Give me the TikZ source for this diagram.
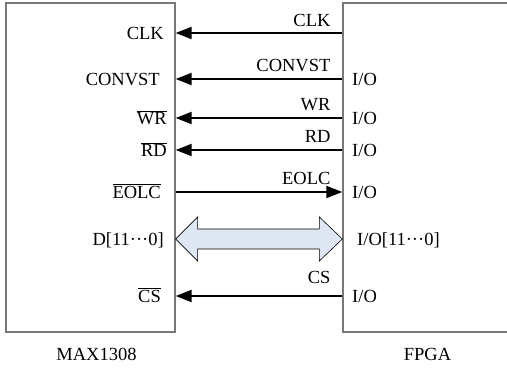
\documentclass[tikz,border=0pt]{standalone}
\usepackage{fontspec}
\setmainfont{Liberation Serif}
\usetikzlibrary{arrows.meta}
\usetikzlibrary{calc,positioning}

\definecolor{boxgray}{RGB}{120,120,120}
\definecolor{busblue}{RGB}{222,231,243}

\newcommand{\lowact}[1]{$\overline{\mbox{#1}}$}
\newcommand{\midots}{\textperiodcentered\textperiodcentered\textperiodcentered}

\begin{document}
\begin{tikzpicture}[x=1pt,y=-1pt,>={Triangle[length=16pt,width=12pt]},
  every node/.style={font=\fontsize{18.5}{21}\selectfont,inner sep=0pt,text height=12.5pt,text depth=0pt},
  chip/.style={draw=boxgray,line width=1.3pt,minimum width=169pt,minimum height=329pt},
  sig/.style={line width=1.8pt},
  bus/.style={draw=black,fill=busblue,line width=0.6pt},
  tag/.style={anchor=south east,xshift=-11pt,yshift=7pt}]
\clip (0,0) rectangle (507,371);

\node[chip] (max) at (90.5,167.5) {};
\node[chip] (fpga) at (427.5,167.5) {};
\node (maxname) [below=15pt of max,xshift=6pt] {MAX1308};
\node (fpganame) [below=15pt of fpga] {FPGA};

% pins of the converter
\node[anchor=east] (clk) at (164,33) {CLK};
\node[anchor=east] (convst) at (160,79) {CONVST};
\node[anchor=east] (wr) at (167,118) {\lowact{WR}};
\node[anchor=east] (rd) at (167,150) {\lowact{RD}};
\node[anchor=east] (eolc) at (161,192) {\lowact{EOLC}};
\node[anchor=east] (data) at (164,239) {D[11\midots0]};
\node[anchor=east] (cs) at (161,296) {\lowact{CS}};

% pins of the fpga
\node[anchor=west] (io1) at (352,79) {I/O};
\node[anchor=west] (io2) at (352,118) {I/O};
\node[anchor=west] (io3) at (352,150) {I/O};
\node[anchor=west] (io4) at (352,192) {I/O};
\node[anchor=west] (iobus) at (357,239) {I/O[11\midots0]};
\node[anchor=west] (io5) at (352,296) {I/O};

\draw[sig,->] (fpga.west |- clk) -- (max.east |- clk) node[pos=0,tag,yshift=-1pt] {CLK};
\draw[sig,->] (io1 -| fpga.west) -- (max.east |- convst) node[pos=0,tag] {CONVST};
\draw[sig,->] (io2 -| fpga.west) -- (max.east |- wr) node[pos=0,tag] {WR};
\draw[sig,->] (io3 -| fpga.west) -- (max.east |- rd) node[pos=0,tag] {RD};
\draw[sig,->] (max.east |- eolc) -- (io4 -| fpga.west) node[pos=1,tag] {EOLC};
\draw[sig,->] (io5 -| fpga.west) -- (max.east |- cs) node[pos=0,tag,yshift=5pt] {CS};

% data bus
\coordinate (busL) at (max.east |- data);
\coordinate (busR) at (fpga.west |- iobus);
\filldraw[bus] (busL) -- ($(busL)+(22,-22)$) -- ($(busL)+(22,-10)$) -- ($(busR)+(-23,-10)$)
  -- ($(busR)+(-23,-22)$) -- (busR) -- ($(busR)+(-23,22)$) -- ($(busR)+(-23,10)$)
  -- ($(busL)+(22,10)$) -- ($(busL)+(22,22)$) -- cycle;
\end{tikzpicture}
\end{document}
